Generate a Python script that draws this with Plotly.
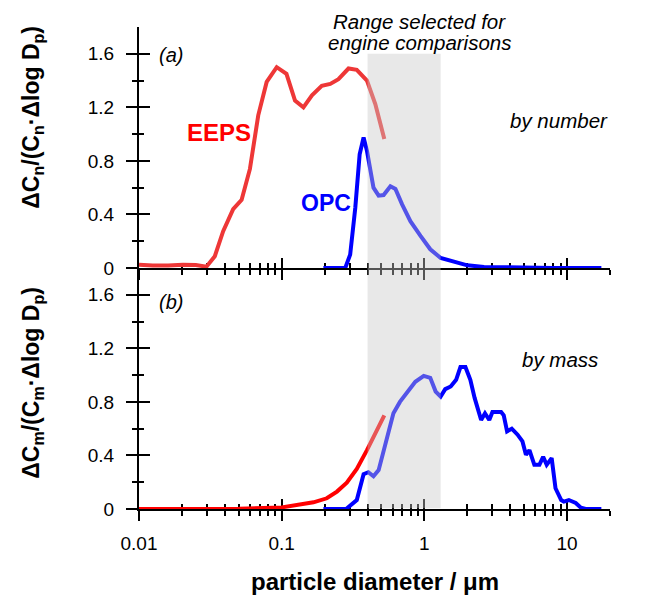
import math
import plotly.graph_objects as go

# ---------------- data ----------------
eeps_num_x = [0.01, 0.0125, 0.016, 0.0203, 0.025, 0.0297, 0.034, 0.0389, 0.0457, 0.0524,
              0.0599, 0.0685, 0.0785, 0.0923, 0.108, 0.124, 0.142, 0.163, 0.191, 0.219,
              0.25, 0.294, 0.336, 0.396, 0.453, 0.524]
eeps_num_y = [0.025, 0.018, 0.018, 0.025, 0.022, 0.01, 0.088, 0.275, 0.44, 0.51,
              0.74, 1.14, 1.39, 1.50, 1.45, 1.25, 1.20, 1.29, 1.36, 1.375,
              1.41, 1.49, 1.48, 1.40, 1.225, 0.963]

opc_num_x = [0.196, 0.279, 0.302, 0.328, 0.352, 0.375, 0.396, 0.44, 0.478, 0.518, 0.578,
             0.627, 0.698, 0.798, 0.94, 1.10, 1.30, 1.61, 2.0, 2.62, 4.5, 8.0, 17.4]
opc_num_y = [0, 0, 0.10, 0.45, 0.85, 0.975, 0.875, 0.60, 0.54, 0.545, 0.61,
             0.59, 0.475, 0.35, 0.24, 0.14, 0.075, 0.045, 0.02, 0.008, 0.002, 0.0, 0.0]

eeps_mass_x = [0.01, 0.02, 0.05, 0.1, 0.135, 0.167, 0.207, 0.244, 0.286, 0.336, 0.396, 0.453, 0.524]
eeps_mass_y = [0, 0, 0.001, 0.012, 0.03, 0.05, 0.08, 0.13, 0.197, 0.30, 0.44, 0.57, 0.70]

opc_mass_x = [0.196, 0.283, 0.336, 0.375, 0.405, 0.44, 0.478, 0.518, 0.56, 0.607, 0.674,
              0.77, 0.864, 0.99, 1.10, 1.20, 1.30, 1.40, 1.53, 1.67, 1.79, 1.94, 2.10,
              2.25, 2.5, 2.66, 2.85, 3.0, 3.45, 3.6, 3.8, 4.1, 4.5, 4.87, 5.15, 5.45,
              5.9, 6.4, 6.8, 7.2, 7.8, 8.3, 9.1, 9.5, 10.3, 11.5, 12.5, 13.5, 17.4]
opc_mass_y = [0, 0, 0.067, 0.26, 0.275, 0.245, 0.29, 0.43, 0.59, 0.715, 0.80,
              0.877, 0.95, 0.994, 0.98, 0.877, 0.84, 0.895, 0.915, 0.965, 1.06, 1.06, 0.965,
              0.83, 0.665, 0.715, 0.665, 0.725, 0.725, 0.70, 0.58, 0.6, 0.555, 0.505, 0.405, 0.44,
              0.33, 0.33, 0.39, 0.33, 0.38, 0.155, 0.067, 0.055, 0.067, 0.045, 0.01, 0, 0]

selected_range = [0.4, 1.3]

x_major = [0.01, 0.1, 1, 10]
x_major_text = ["0.01", "0.1", "1", "10"]
x_minor = [m * d for d in [0.01, 0.1, 1, 10] for m in range(2, 10) if m * d <= 20]
y_major = [0, 0.4, 0.8, 1.2, 1.6]
y_major_text = ["0", "0.4", "0.8", "1.2", "1.6"]
y_minor = [0.2, 0.6, 1.0, 1.4]

x_range = [math.log10(0.01), math.log10(20)]
y_range = [0, 1.8]

FONT = "Arial, Liberation Sans, sans-serif"
RED_TOP = "rgb(238,55,55)"
RED = "rgb(255,0,0)"
BLUE = "rgb(0,0,255)"

fig = go.Figure()

def line(x, y, color, xa, ya):
    fig.add_trace(go.Scatter(x=x, y=y, mode="lines", xaxis=xa, yaxis=ya,
                             line=dict(color=color, width=4), showlegend=False,
                             hoverinfo="skip"))

# top panel (by number): x2 / y2 ; bottom panel (by mass): x / y
line(eeps_num_x, eeps_num_y, RED_TOP, "x2", "y2")
line(opc_num_x, opc_num_y, BLUE, "x2", "y2")
line(eeps_mass_x, eeps_mass_y, RED, "x", "y")
line(opc_mass_x, opc_mass_y, BLUE, "x", "y")

# dummy invisible traces to make overlay (inside-tick) axes exist
for xa, ya in [("x3", "y"), ("x", "y3"), ("x4", "y2"), ("x2", "y4")]:
    fig.add_trace(go.Scatter(x=[1], y=[0.9], mode="markers", xaxis=xa, yaxis=ya,
                             marker=dict(opacity=0), showlegend=False, hoverinfo="skip"))

tickfont = dict(family=FONT, size=19, color="black")

def xax(labels, side_ticks, show_line, overlay=None, anchor="y"):
    d = dict(type="log", range=x_range, anchor=anchor, domain=[0, 1],
             showgrid=False, zeroline=False, showline=show_line, linecolor="black",
             linewidth=2, ticks=side_ticks, tickvals=x_major, ticktext=x_major_text,
             ticklen=10, tickwidth=2, tickcolor="black", showticklabels=labels,
             tickfont=tickfont, ticklabelstandoff=6, layer="below traces",
             minor=dict(tickvals=x_minor, ticks=side_ticks, ticklen=5, tickwidth=2,
                        tickcolor="black", showgrid=False))
    if overlay:
        d["overlaying"] = overlay
    return d

def yax(domain, side_ticks, show_line, overlay=None, anchor="x", labels=True):
    d = dict(range=y_range, anchor=anchor, showgrid=False, zeroline=False,
             showline=show_line, linecolor="black", linewidth=2, ticks=side_ticks,
             tickvals=y_major, ticktext=y_major_text, ticklen=11, tickwidth=2,
             tickcolor="black", showticklabels=labels, tickfont=tickfont,
             ticklabelstandoff=8, layer="below traces",
             minor=dict(tickvals=y_minor, ticks=side_ticks, ticklen=5, tickwidth=2,
                        tickcolor="black", showgrid=False))
    if overlay:
        d["overlaying"] = overlay
    else:
        d["domain"] = domain
    return d

fig.update_layout(
    xaxis=xax(True, "outside", True, anchor="y"),
    xaxis3=xax(False, "inside", False, overlay="x", anchor="y"),
    xaxis2=xax(False, "outside", True, anchor="y2"),
    xaxis4=xax(False, "inside", False, overlay="x2", anchor="y2"),
    yaxis=yax([0, 0.5], "outside", True, anchor="x"),
    yaxis3=yax(None, "inside", False, overlay="y", anchor="x", labels=False),
    yaxis2=yax([0.5, 1], "outside", True, anchor="x2"),
    yaxis4=yax(None, "inside", False, overlay="y2", anchor="x2", labels=False),
)

# shaded "selected range" band (semi-transparent, above the lines)
fig.add_shape(type="rect", xref="x2", yref="y2", x0=selected_range[0], x1=selected_range[1],
              y0=0, y1=1.6, fillcolor="rgb(200,200,200)", opacity=0.42,
              line=dict(width=0), layer="above")
fig.add_shape(type="rect", xref="x", yref="y", x0=selected_range[0], x1=selected_range[1],
              y0=0.006, y1=1.8, fillcolor="rgb(200,200,200)", opacity=0.42,
              line=dict(width=0), layer="above")

def ann(text, x, y, size, xanchor="center", italic=False, bold=False, color="black", angle=0):
    t = text
    if bold:
        t = "<b>" + t + "</b>"
    if italic:
        t = "<i>" + t + "</i>"
    fig.add_annotation(text=t, x=x, y=y, xref="paper", yref="paper", showarrow=False,
                       xanchor=xanchor, yanchor="middle", textangle=angle,
                       font=dict(family=FONT, size=size, color=color))

ann("Range selected for", 0.596, 1.011, 20.5, italic=True)
ann("engine comparisons", 0.596, 0.967, 20.5, italic=True)
ann("(a)", 0.069, 0.942, 20, italic=True)
ann("(b)", 0.069, 0.430, 20, italic=True)
ann("by number", 1.0, 0.807, 20.5, xanchor="right", italic=True)
ann("by mass", 0.978, 0.311, 20.5, xanchor="right", italic=True)
ann("EEPS", 0.169, 0.781, 24, bold=True, color=RED)
ann("OPC", 0.396, 0.635, 23, bold=True, color=BLUE)
ann("ΔC<sub>n</sub>/(C<sub>n</sub>·Δlog D<sub>p</sub>)", -0.226, 0.813, 23, bold=True, angle=-90)
ann("ΔC<sub>m</sub>/(C<sub>m</sub>·Δlog D<sub>p</sub>)", -0.226, 0.261, 23, bold=True, angle=-90)
ann("particle diameter / μm", 0.5, -0.151, 24, bold=True)

fig.update_layout(width=645, height=599, autosize=False,
                  margin=dict(l=139, r=35, t=27, b=90),
                  paper_bgcolor="white", plot_bgcolor="white",
                  font=dict(family=FONT, color="black"), showlegend=False)

fig.write_html("out.html")
